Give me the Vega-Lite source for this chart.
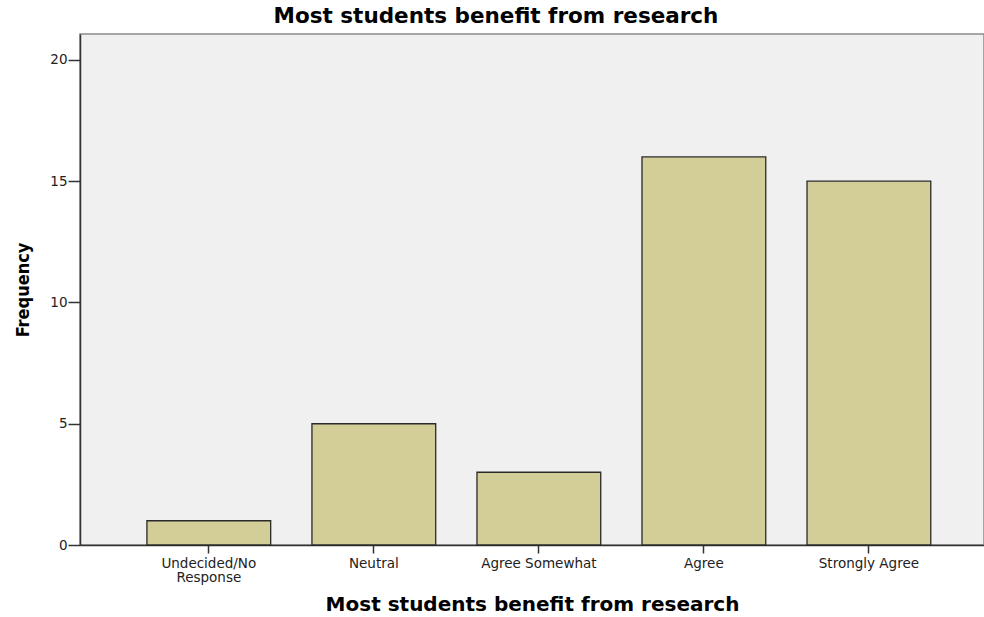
{
  "$schema": "https://vega.github.io/schema/vega-lite/v6.json",
  "width": 904,
  "height": 511,
  "autosize": {"type": "none"},
  "padding": {"left": 80, "top": 34, "right": 0, "bottom": 72},
  "background": "white",
  "title": {
    "text": "Most students benefit from research",
    "font": "DejaVu Sans",
    "fontSize": 21.5,
    "fontWeight": "bold",
    "color": "#000000",
    "anchor": "middle",
    "dx": -36,
    "offset": 7
  },
  "config": {
    "view": {"fill": "#F0F0F0", "stroke": "#8a8a8a", "strokeWidth": 1.5}
  },
  "data": {
    "values": [
      {"category": "Undecided/No Response", "frequency": 1},
      {"category": "Neutral", "frequency": 5},
      {"category": "Agree Somewhat", "frequency": 3},
      {"category": "Agree", "frequency": 16},
      {"category": "Strongly Agree", "frequency": 15}
    ]
  },
  "mark": {"type": "bar", "fill": "#D3CE97", "stroke": "#2a2a2a", "strokeWidth": 1.3},
  "encoding": {
    "x": {
      "field": "category",
      "type": "nominal",
      "sort": null,
      "scale": {"paddingInner": 0.25, "paddingOuter": 0.364, "align": 0.557},
      "axis": {
        "title": "Most students benefit from research",
        "titleFont": "DejaVu Sans",
        "titleFontSize": 20,
        "titleFontWeight": "bold",
        "titleColor": "#000000",
        "titlePadding": 11,
        "labelAngle": 0,
        "labelFont": "DejaVu Sans",
        "labelFontSize": 13.5,
        "labelColor": "#222222",
        "labelExpr": "datum.label == 'Undecided/No Response' ? ['Undecided/No', 'Response'] : datum.label",
        "labelLineHeight": 14,
        "labelPadding": 3,
        "tickSize": 8,
        "tickColor": "#333333",
        "tickWidth": 1.5,
        "domainColor": "#333333",
        "domainWidth": 1.5
      }
    },
    "y": {
      "field": "frequency",
      "type": "quantitative",
      "scale": {"domain": [0, 21.07], "nice": false},
      "axis": {
        "title": "Frequency",
        "titleFont": "DejaVu Sans Condensed",
        "titleFontSize": 18,
        "titleFontWeight": "bold",
        "titleColor": "#000000",
        "titlePadding": 17,
        "values": [0, 5, 10, 15, 20],
        "grid": false,
        "labelFont": "DejaVu Sans",
        "labelFontSize": 13.5,
        "labelColor": "#222222",
        "labelPadding": 1,
        "tickSize": 12,
        "tickColor": "#333333",
        "tickWidth": 1.5,
        "domainColor": "#333333",
        "domainWidth": 1.5
      }
    }
  }
}
